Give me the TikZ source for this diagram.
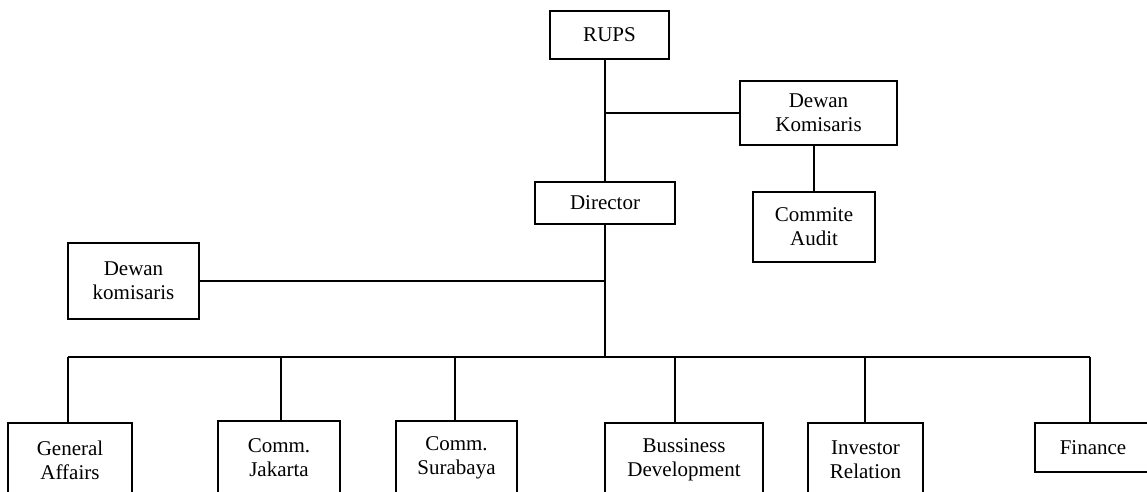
\documentclass[tikz,border=0pt]{standalone}
\usepackage{fontspec}
\setmainfont{Liberation Serif}
\begin{document}
\begin{tikzpicture}[x=1pt,y=-1pt,
  line width=1.6pt,
  every node/.style={font=\fontsize{21}{24}\selectfont},
  unit/.style={draw, rectangle, align=center, inner sep=0pt, line width=1.6pt},
  link/.style={draw, line width=1.6pt}]
\useasboundingbox (0,0) rectangle (1147,491);
\clip (0,0) rectangle (1147,491);

% top of the structure
\node[unit, minimum width=119pt, minimum height=48pt] (rups) at (609.5,35) {RUPS};
\node[unit, minimum width=157pt, minimum height=64pt] (dk) at (818.5,113) {Dewan\\Komisaris};
\node[unit, minimum width=122pt, minimum height=70pt] (audit) at (814,227) {Commite\\Audit};
\node[unit, minimum width=140pt, minimum height=42pt] (dir) at (605,203) {Director};
\node[unit, minimum width=131pt, minimum height=76pt] (dkl) at (133.5,281) {Dewan\\komisaris};

% departments
\node[unit, minimum width=124pt, minimum height=74pt] (ga) at (70,460) {General\\Affairs};
\node[unit, minimum width=122pt, minimum height=74pt] (cj) at (279,458) {Comm.\\Jakarta};
\node[unit, minimum width=121pt, minimum height=74pt] (cs) at (456.5,458) {Comm.\\Surabaya};
\node[unit, minimum width=158pt, minimum height=74pt] (bd) at (684,460) {Bussiness\\Development};
\node[unit, minimum width=115pt, minimum height=74pt] (ir) at (865.5,460) {Investor\\Relation};
\node[unit, minimum width=116pt, minimum height=49pt] (fin) at (1093,447.5) {Finance};

% drop points on the department bus
\coordinate (bus) at (605,357);
\coordinate (pga) at (68,357);
\coordinate (pcj) at (281,357);
\coordinate (pcs) at (455,357);
\coordinate (pbd) at (675,357);
\coordinate (pir) at (865,357);
\coordinate (pfin) at (1090,357);

% connectors
\draw[link] (dir |- rups.south) -- (dir.north);
\draw[link] (dk.west) -- (dk.west -| dir);
\draw[link] (audit |- dk.south) -- (audit.north);
\draw[link] (dkl.east) -- (dkl.east -| dir);
\draw[link] (dir.south) -- (bus);
\draw[link] (pga) -- (pfin);
\draw[link] (pga) -- (pga |- ga.north);
\draw[link] (pcj) -- (pcj |- cj.north);
\draw[link] (pcs) -- (pcs |- cs.north);
\draw[link] (pbd) -- (pbd |- bd.north);
\draw[link] (pir) -- (pir |- ir.north);
\draw[link] (pfin) -- (pfin |- fin.north);
\end{tikzpicture}
\end{document}
